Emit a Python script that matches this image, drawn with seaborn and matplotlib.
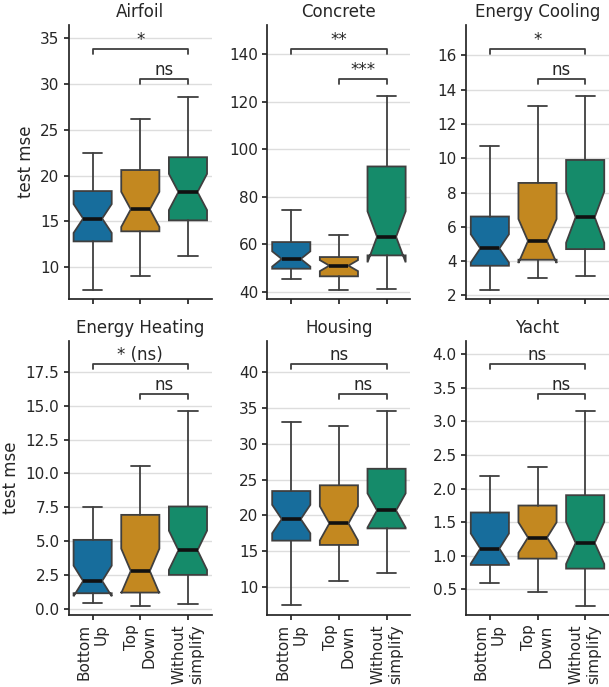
import numpy as np
import matplotlib
matplotlib.use("Agg")
import matplotlib.pyplot as plt
from matplotlib.ticker import MultipleLocator
import seaborn as sns

# Daten
datasets = ["Airfoil", "Concrete", "Energy Cooling", "Energy Heating", "Housing", "Yacht"]
methods = ["Bottom\nUp", "Top\nDown", "Without\nsimplify"]
n_runs = 30

whis_low = [[7.5, 9.0, 11.2], [45.6, 41.0, 41.4], [2.33, 3.03, 3.15],
            [0.44, 0.22, 0.36], [7.5, 10.9, 12.0], [0.595, 0.46, 0.256]]
q1 = [[12.8, 13.9, 15.1], [49.8, 46.6, 55.4], [3.73, 4.08, 4.70],
      [1.13, 1.18, 2.49], [16.5, 15.9, 18.2], [0.863, 0.957, 0.808]]
med = [[15.3, 16.3, 18.2], [53.9, 51.1, 63.2], [4.74, 5.17, 6.56],
       [2.04, 2.78, 4.31], [19.5, 18.9, 20.7], [1.107, 1.271, 1.191]]
q3 = [[18.3, 20.6, 22.0], [61.0, 54.7, 92.8], [6.60, 8.56, 9.90],
      [5.08, 6.93, 7.55], [23.4, 24.2, 26.5], [1.644, 1.748, 1.902]]
whis_high = [[22.5, 26.2, 28.6], [74.6, 64.0, 122.3], [10.72, 13.05, 13.61],
             [7.50, 10.51, 14.59], [33.0, 32.5, 34.5], [2.185, 2.315, 3.15]]

# Signifikanz: Bottom Up vs Without simplify, Top Down vs Without simplify
stars_bu = ["*", "**", "*", "* (ns)", "ns", "ns"]
stars_td = ["ns", "***", "ns", "ns", "ns", "ns"]
bracket_bu = [33.8, 142.1, 16.35, 18.09, 41.07, 3.856]
bracket_td = [30.55, 129.5, 14.6, 15.87, 36.89, 3.408]

ylims = [(6.54, 36.45), (37.2, 152.3), (1.81, 17.77),
         (-0.48, 19.77), (6.15, 44.23), (0.117, 4.194)]
ytick_step = [5, 20, 2, 2.5, 5, 0.5]

sns.set_theme(context="notebook", style="ticks")
plt.rcParams["font.family"] = ["DejaVu Sans"]
palette = [sns.desaturate(c, 0.75) for c in sns.color_palette("colorblind", 3)]
line_col = "#3f3f3f"

fig, axes = plt.subplots(2, 3, figsize=(6.09, 6.87), dpi=100, sharex=True)
fig.subplots_adjust(left=0.113, right=1.0, top=0.9636, bottom=0.1048,
                    wspace=0.389, hspace=0.156)

for i, ax in enumerate(axes.flat):
    stats = []
    for j in range(3):
        iqr = q3[i][j] - q1[i][j]
        ci = 1.57 * iqr / np.sqrt(n_runs)
        stats.append({
            "med": med[i][j], "q1": q1[i][j], "q3": q3[i][j],
            "whislo": whis_low[i][j], "whishi": whis_high[i][j],
            "cilo": med[i][j] - ci, "cihi": med[i][j] + ci,
            "fliers": [],
        })
    res = ax.bxp(stats, positions=[0, 1, 2], widths=0.8, capwidths=0.4,
                 patch_artist=True, shownotches=True, showfliers=False,
                 boxprops=dict(edgecolor=line_col, linewidth=1.3),
                 whiskerprops=dict(color=line_col, linewidth=1.3),
                 capprops=dict(color=line_col, linewidth=1.3),
                 medianprops=dict(color="#111111", linewidth=2.6))
    for patch, c in zip(res["boxes"], palette):
        patch.set_facecolor(c)

    ax.set_xlim(-0.5, 2.5)
    ax.set_ylim(*ylims[i])
    ax.yaxis.set_major_locator(MultipleLocator(ytick_step[i]))
    ax.set_xticks([0, 1, 2])
    ax.set_xticklabels(methods)
    ax.tick_params(labelsize=11, length=3.5, pad=3.2)
    ax.yaxis.grid(True, color="#dddddd", linewidth=1)
    ax.set_axisbelow(True)
    ax.set_title(datasets[i], fontsize=12)
    if i % 3 == 0:
        ax.set_ylabel("test mse", fontsize=12)

    # Klammern mit Signifikanz
    h = 0.017 * (ylims[i][1] - ylims[i][0])
    for (x1, x2), y, txt in [((0, 2), bracket_bu[i], stars_bu[i]),
                             ((1, 2), bracket_td[i], stars_td[i])]:
        ax.plot([x1, x1, x2, x2], [y - h, y, y, y - h], color=line_col, lw=1.3, clip_on=False)
        ax.annotate(txt, xy=((x1 + x2) / 2, y), xytext=(0, 0), textcoords="offset points",
                    ha="center", va="bottom", fontsize=12, color="#262626")

    sns.despine(ax=ax)

for ax in axes[1]:
    for lab in ax.get_xticklabels():
        lab.set(rotation=90, ha="right", va="center", rotation_mode="anchor")

fig.savefig("out.png", dpi=100)
